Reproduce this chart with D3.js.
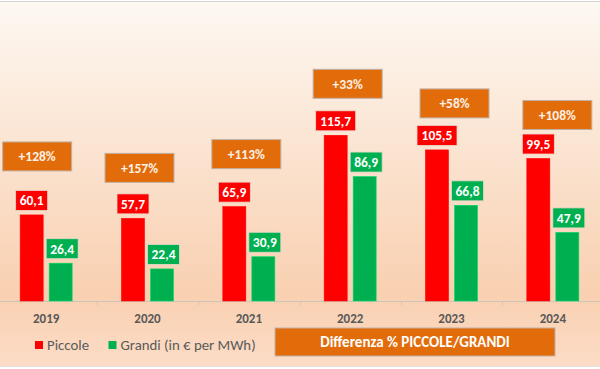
<!DOCTYPE html>
<html lang="it">
<head>
<meta charset="UTF-8">
<title>Piccole vs Grandi</title>
<script src="https://cdn.jsdelivr.net/npm/d3@7"></script>
<style>
  body { margin: 0; }
  text { font-family: Calibri, Carlito, "Liberation Sans", Arial, sans-serif; }
</style>
</head>
<body>
<script>
// data
var years = ['2019', '2020', '2021', '2022', '2023', '2024'];
var piccole = [60.1, 57.7, 65.9, 115.7, 105.5, 99.5];
var grandi = [26.4, 22.4, 30.9, 86.9, 66.8, 47.9];
var differenza = ['+128%', '+157%', '+113%', '+33%', '+58%', '+108%'];
var seriesNames = ['Piccole', 'Grandi (in € per MWh)'];
var boxTitle = 'Differenza % PICCOLE/GRANDI';

// layout of the hand placed % boxes (pixel nudges)
var pctGap = [20, 12, 14, 13, 8, 5];
var pctShift = [-9, -8, -2.5, -2.5, 3, 4.5];

var W = 600, H = 369;
var RED = '#ff0000', GREEN = '#00b050', ORANGE = '#e36c0a', GREY = '#595959';

var svg = d3.select('body').append('svg')
    .attr('width', W).attr('height', H);

var grad = svg.append('defs').append('linearGradient')
    .attr('id', 'bg').attr('x1', 0).attr('y1', 0).attr('x2', 0).attr('y2', 1);
grad.append('stop').attr('offset', '0%').attr('stop-color', '#fdf8f2');
grad.append('stop').attr('offset', '80%').attr('stop-color', '#f9d0b1');
grad.append('stop').attr('offset', '100%').attr('stop-color', '#fcdcc6');

svg.append('rect').attr('width', W).attr('height', H).attr('fill', '#ffffff');
svg.append('rect').attr('x', 0).attr('y', 2).attr('width', W).attr('height', 364)
    .attr('fill', 'url(#bg)');
svg.append('line').attr('x1', 0).attr('x2', W).attr('y1', 1.5).attr('y2', 1.5)
    .attr('stroke', '#d4d4d4');
svg.append('line').attr('x1', 0).attr('x2', W).attr('y1', 366.5).attr('y2', 366.5)
    .attr('stroke', '#e0e0e0');

var baseY = 301;
var x = d3.scaleBand().domain(years).range([-4.5, 603.5]);
var y = d3.scaleLinear().domain([0, 100]).range([baseY, baseY - 143.2]);
var barW = 23, innerGap = 6;

// axis
svg.append('line').attr('x1', 0).attr('x2', W).attr('y1', baseY + 0.5).attr('y2', baseY + 0.5)
    .attr('stroke', '#d0c4ba');
svg.selectAll('line.tick').data(years.slice(1)).enter().append('line')
    .attr('x1', function (d) { return Math.round(x(d)) + 0.5; })
    .attr('x2', function (d) { return Math.round(x(d)) + 0.5; })
    .attr('y1', baseY).attr('y2', baseY + 4)
    .attr('stroke', '#d0c4ba');
svg.selectAll('text.year').data(years).enter().append('text')
    .attr('x', function (d) { return x(d) + x.bandwidth() / 2; })
    .attr('y', baseY + 21.5)
    .attr('text-anchor', 'middle')
    .attr('font-size', '13px').attr('font-weight', 'bold')
    .attr('fill', GREY)
    .text(function (d) { return d; });

function cx(i, k) {
    var c = x(years[i]) + x.bandwidth() / 2;
    return k == 0 ? c - innerGap / 2 - barW / 2 : c + innerGap / 2 + barW / 2;
}

var fmt = function (v) { return d3.format('.1f')(v).replace('.', ','); };

[piccole, grandi].forEach(function (vals, k) {
    var col = k == 0 ? RED : GREEN;
    svg.selectAll('rect.bar' + k).data(vals).enter().append('rect')
        .attr('x', function (d, i) { return cx(i, k) - barW / 2; })
        .attr('y', function (d) { return y(d); })
        .attr('width', barW)
        .attr('height', function (d) { return baseY - y(d); })
        .attr('fill', col)
        .attr('stroke', d3.color(col).brighter(0.6)).attr('stroke-width', 0.6);
    var lab = svg.selectAll('g.lab' + k).data(vals).enter().append('g')
        .attr('transform', function (d, i) {
            return 'translate(' + (cx(i, k) + (k == 1 ? 1.5 : 0)) + ',' + (y(d) - 14.5) + ')';
        });
    lab.append('rect')
        .attr('x', function (d) { return d >= 100 ? -20 : -16; })
        .attr('y', -10)
        .attr('width', function (d) { return d >= 100 ? 40 : 32; })
        .attr('height', 20)
        .attr('fill', col)
        .attr('stroke', '#e8d8cc').attr('stroke-width', 0.8);
    lab.append('text')
        .attr('text-anchor', 'middle').attr('dy', '0.36em')
        .attr('font-size', '13.5px').attr('font-weight', 'bold')
        .attr('fill', '#ffffff')
        .text(fmt);
});

// % boxes
var pct = svg.selectAll('g.pct').data(differenza).enter().append('g')
    .attr('transform', function (d, i) {
        var c = x(years[i]) + x.bandwidth() / 2 + pctShift[i];
        var bottom = y(piccole[i]) - 24 - pctGap[i];
        return 'translate(' + c + ',' + (bottom - 14.5) + ')';
    });
pct.append('rect')
    .attr('x', -34.5).attr('y', -14.5).attr('width', 69).attr('height', 29)
    .attr('fill', ORANGE).attr('stroke', '#c0b0a4').attr('stroke-width', 1);
pct.append('text')
    .attr('text-anchor', 'middle').attr('dy', '0.36em')
    .attr('font-size', '13.5px').attr('font-weight', 'bold')
    .attr('fill', '#fdf0e6')
    .text(function (d) { return d; });

// legend
var leg = svg.append('g');
[RED, GREEN].forEach(function (c, k) {
    var lx = k == 0 ? 35 : 108.5;
    leg.append('rect').attr('x', lx).attr('y', 341).attr('width', 8).attr('height', 8)
        .attr('fill', c);
    leg.append('text').attr('x', lx + 12).attr('y', 350)
        .attr('font-size', '14.8px').attr('fill', GREY)
        .text(seriesNames[k]);
});
svg.append('rect').attr('x', 275).attr('y', 328).attr('width', 280).attr('height', 28)
    .attr('fill', ORANGE).attr('stroke', '#c0b0a4').attr('stroke-width', 1);
svg.append('text').attr('x', 415).attr('y', 342).attr('dy', '0.36em')
    .attr('text-anchor', 'middle')
    .attr('font-size', '15px').attr('font-weight', 'bold').attr('fill', '#ffffff')
    .text(boxTitle);
</script>
</body>
</html>
